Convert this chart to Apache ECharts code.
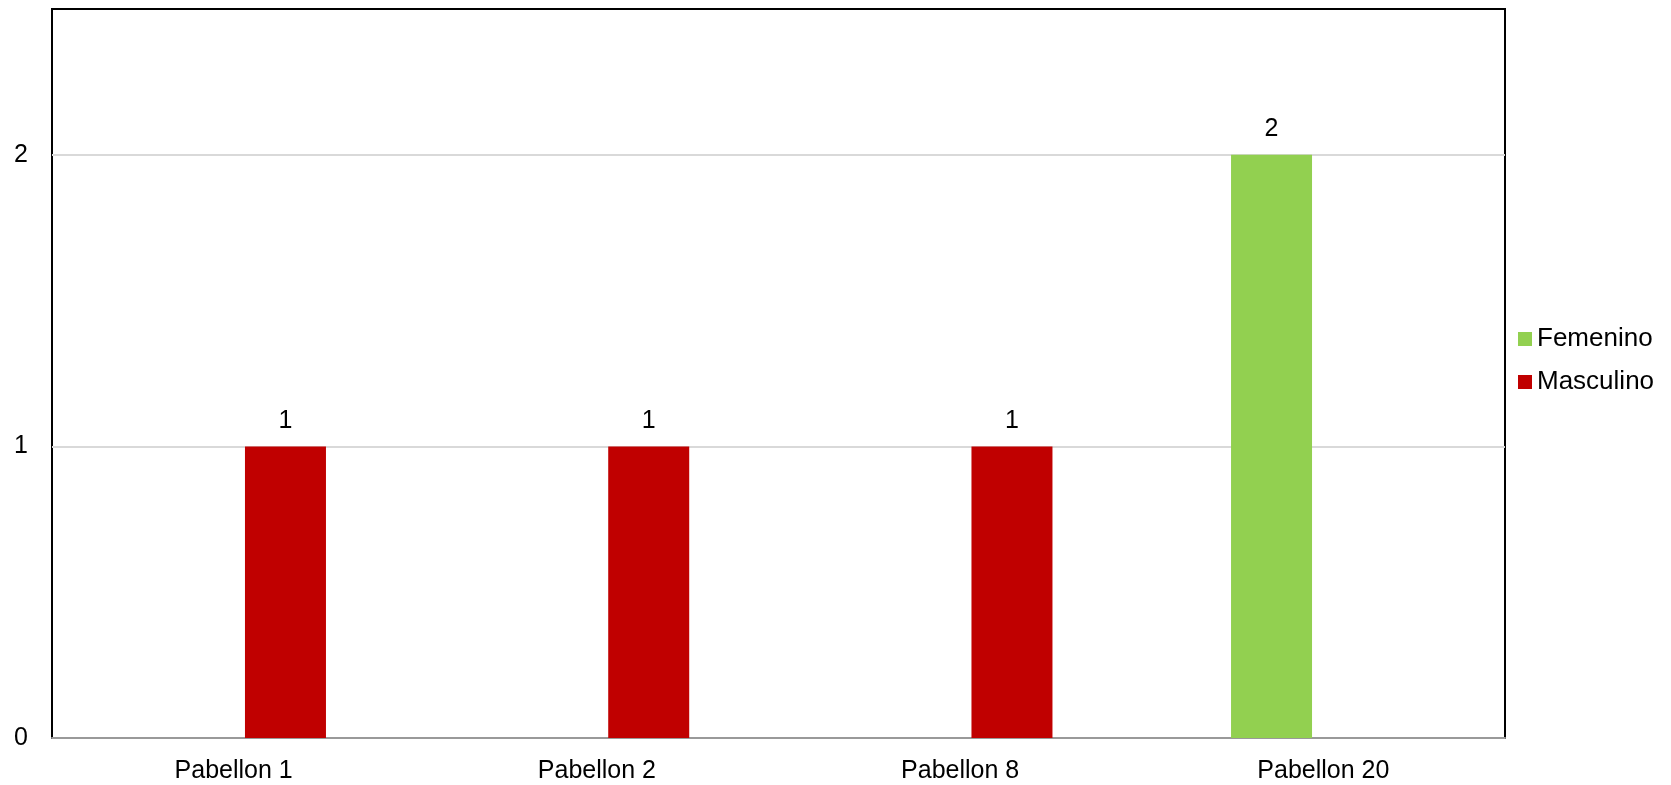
<!DOCTYPE html>
<html><head><meta charset="utf-8">
<script src="https://cdn.jsdelivr.net/npm/echarts@6/dist/echarts.min.js"></script>
<style>html,body{margin:0;padding:0;background:#fff}#c{width:1671px;height:785px}</style>
</head><body><div id="c"></div>
<script>
const categories = ['Pabellon 1', 'Pabellon 2', 'Pabellon 8', 'Pabellon 20'];
const femenino = [null, null, null, 2];
const masculino = [1, 1, 1, null];
const seriesNames = ['Femenino', 'Masculino'];
const yMax = 2.5;

const chart = echarts.init(document.getElementById('c'));
const font = 'Liberation Sans, Arial, sans-serif';
const label = {show: true, position: 'top', distance: 13, color: '#000', fontSize: 25, fontFamily: font,
  formatter: p => (p.value == null || p.value === 0) ? '' : String(p.value)};
chart.setOption({
  animation: false,
  grid: {left: 52, top: 9, right: 166, bottom: 47, show: true, borderColor: '#000', borderWidth: 2, backgroundColor: '#fff'},
  legend: {
    orient: 'vertical', left: 1513, top: 321, itemWidth: 14, itemHeight: 14, itemGap: 17,
    icon: 'rect',
    textStyle: {fontSize: 26, fontFamily: font, color: '#000'},
    data: seriesNames
  },
  xAxis: {
    type: 'category', data: categories,
    axisLine: {show: true, lineStyle: {color: '#999', width: 2}},
    axisTick: {show: false},
    axisLabel: {color: '#000', fontSize: 25, fontFamily: font, margin: 21}
  },
  yAxis: {
    type: 'value', min: 0, max: yMax, interval: 1,
    axisLine: {show: false}, axisTick: {show: false},
    axisLabel: {color: '#000', fontSize: 25, fontFamily: font, margin: 24, showMaxLabel: false,
      formatter: v => Number.isInteger(v) ? String(v) : ''},
    splitLine: {show: true, showMaxLine: false, lineStyle: {color: '#d9d9d9', width: 2}}
  },
  series: [
    {name: seriesNames[0], type: 'bar', data: femenino, barWidth: 81, barGap: '28%', itemStyle: {color: '#92D050'}, label: label},
    {name: seriesNames[1], type: 'bar', data: masculino, barWidth: 81, barGap: '28%', itemStyle: {color: '#C00000'}, label: label}
  ]
});
</script></body></html>
